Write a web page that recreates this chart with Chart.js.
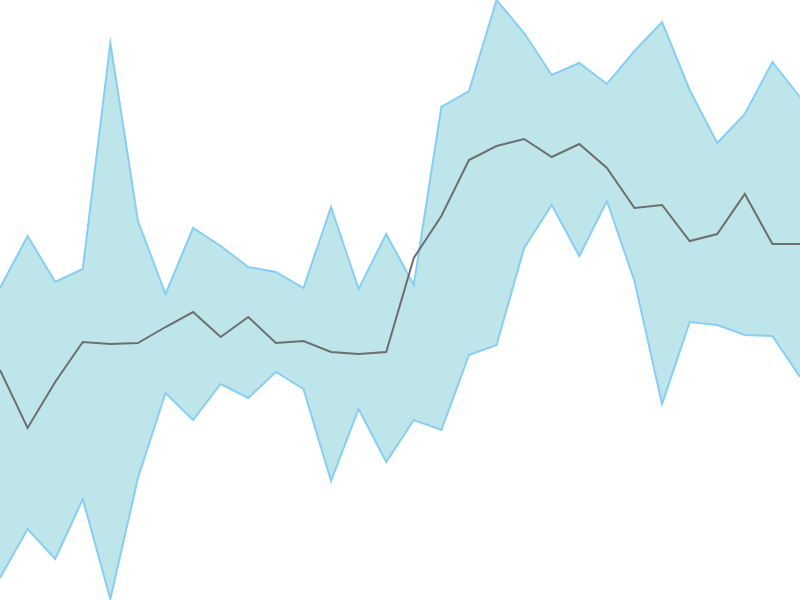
<!DOCTYPE html>
<html>
<head>
<meta charset="utf-8">
<script src="https://cdn.jsdelivr.net/npm/chart.js@4"></script>
<style>
  html, body { margin: 0; padding: 0; background: #fff; }
  #wrap { width: 800px; height: 600px; }
</style>
</head>
<body>
<div id="wrap"><canvas id="bandChart"></canvas></div>
<script>
var labels = [];
for (var i = 0; i < 30; i++) { labels.push(i + 1); }

var upper = [312, 364, 318, 331, 557, 379, 306, 372, 354, 333,
             328, 312, 393, 311, 366, 315, 493, 509, 600, 567,
             525, 537, 516, 549, 578, 510, 457, 486, 538, 503];

var middle = [230, 172, 218, 258, 256, 257, 273, 288, 263, 283,
              257, 259, 248, 246, 248, 342, 384, 440, 454, 461,
              443, 456, 432, 392, 395, 359, 366, 406, 356, 356];

var lower = [22, 71, 41, 101, 1, 122, 207, 180, 216, 202,
             228, 211, 119, 191, 138, 180, 170, 245, 255, 352,
             395, 344, 399, 319, 196, 278, 275, 265, 264, 223];

var ctx = document.getElementById("bandChart").getContext("2d");
// lower index is drawn on top: middle, then lower line, then the filled upper band
window.myBand = new Chart(ctx, {
  type: 'line',
  data: {
    labels: labels,
    datasets: [{
      label: 'Middle',
      data: middle,
      borderColor: 'rgb(110,110,110)',
      borderWidth: 2,
      pointRadius: 0,
      tension: 0,
      fill: false
    }, {
      label: 'Lower',
      data: lower,
      borderColor: 'rgb(135,206,245)',
      borderWidth: 2,
      pointRadius: 0,
      tension: 0,
      fill: false
    }, {
      label: 'Upper',
      data: upper,
      borderColor: 'rgb(135,206,245)',
      backgroundColor: 'rgb(190,229,234)',
      borderWidth: 2,
      pointRadius: 0,
      tension: 0,
      fill: '-1'
    }]
  },
  options: {
    responsive: true,
    maintainAspectRatio: false,
    animation: false,
    layout: { padding: 0 },
    plugins: {
      legend: { display: false },
      tooltip: { enabled: false }
    },
    scales: {
      x: { display: false, offset: false },
      y: { display: false, min: 0, max: 600 }
    }
  }
});
</script>
</body>
</html>
